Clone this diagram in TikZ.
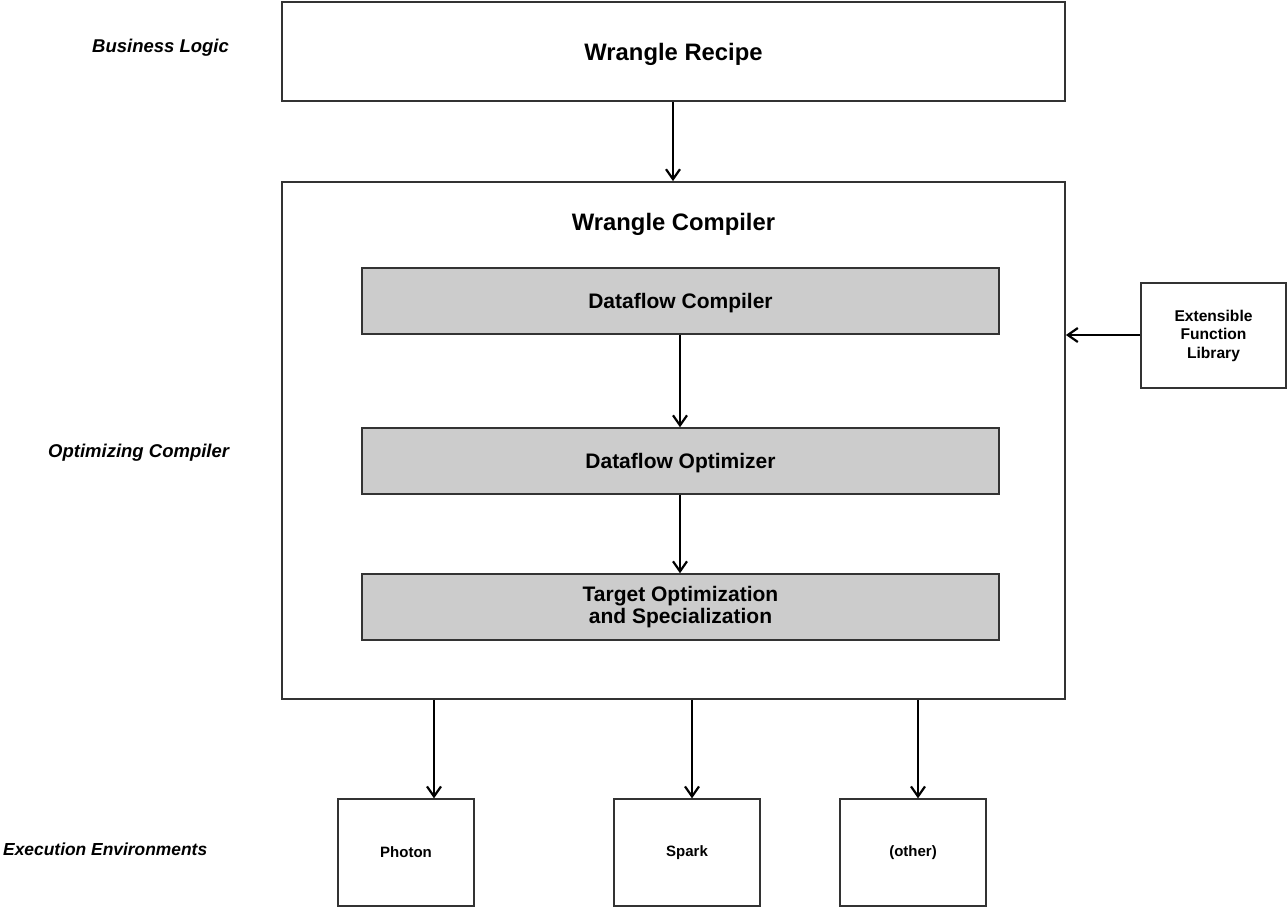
\documentclass[tikz,border=0pt]{standalone}
\usepackage{fontspec}
\setmainfont{Liberation Sans}
\usetikzlibrary{arrows.meta}
\begin{document}
\begin{tikzpicture}[x=1pt,y=-1pt,
  box/.style={draw=black!80, line width=1.8pt, fill=white, inner sep=0pt, align=center},
  bigtxt/.style={font=\bfseries\fontsize{23.8}{28}\selectfont, text depth=0pt},
  stage/.style={draw=black!80, line width=1.5pt, fill=black!20, inner sep=0pt, align=center,
    font=\bfseries\fontsize{21}{22}\selectfont, minimum width=637pt, minimum height=66pt},
  env/.style={draw=black!80, line width=1.3pt, fill=white, inner sep=0pt, minimum height=107pt,
    font=\bfseries\fontsize{15}{18}\selectfont},
  lbl/.style={anchor=west, inner sep=0pt, font=\bfseries\itshape\fontsize{18.5}{22}\selectfont},
  arr/.style={line width=2pt, -{Straight Barb[length=10pt,width=14pt,line width=2.2pt]}}]
\useasboundingbox (0,0) rectangle (1287,907);

% side labels
\node[lbl] (lbiz) at (92,48) {Business Logic};
\node[lbl] (lopt) at (48,453) {Optimizing Compiler};
\node[lbl, font=\bfseries\itshape\fontsize{17.4}{22}\selectfont] (lexe) at (3,849) {Execution Environments};

% main boxes
\node[box, bigtxt, minimum width=783pt, minimum height=99pt] (recipe) at (673.5,51.5) {Wrangle Recipe};
\node[box, minimum width=783pt, minimum height=517pt] (compiler) at (673.5,440.5) {};
\node[bigtxt, inner sep=0pt] (ctitle) at (673.5,222) {Wrangle Compiler};

\node[stage, text depth=0pt] (dfc) at (680.5,301) {Dataflow Compiler};
\node[stage, text depth=0pt] (dfo) at (680.5,461) {Dataflow Optimizer};
\node[stage] (tos) at (680.5,607) {Target Optimization\\and Specialization};

\node[box, minimum width=145pt, minimum height=105pt, line width=1.3pt,
  font=\bfseries\fontsize{15.6}{18.5}\selectfont] (ext) at (1213.5,335.5) {Extensible\\Function\\Library};

\node[env, minimum width=136pt] (photon) at (406,852.5) {Photon};
\node[env, minimum width=146pt] (spark) at (687,852.5) {Spark};
\node[env, minimum width=146pt] (other) at (913,852.5) {(other)};

% connectors
\coordinate (xr) at (673,0);
\coordinate (xd) at (680,0);
\coordinate (ye) at (0,335);
\draw[arr] (recipe.south -| xr) -- (compiler.north -| xr);
\draw[arr] (dfc.south -| xd) -- (dfo.north -| xd);
\draw[arr] (dfo.south -| xd) -- (tos.north -| xd);
\draw[arr] (ext.west |- ye) -- (compiler.east |- ye);

\coordinate (xa) at (434,0);
\coordinate (xb) at (692,0);
\coordinate (xc) at (918,0);
\draw[arr] (compiler.south -| xa) -- (photon.north -| xa);
\draw[arr] (compiler.south -| xb) -- (spark.north -| xb);
\draw[arr] (compiler.south -| xc) -- (other.north -| xc);
\end{tikzpicture}
\end{document}
